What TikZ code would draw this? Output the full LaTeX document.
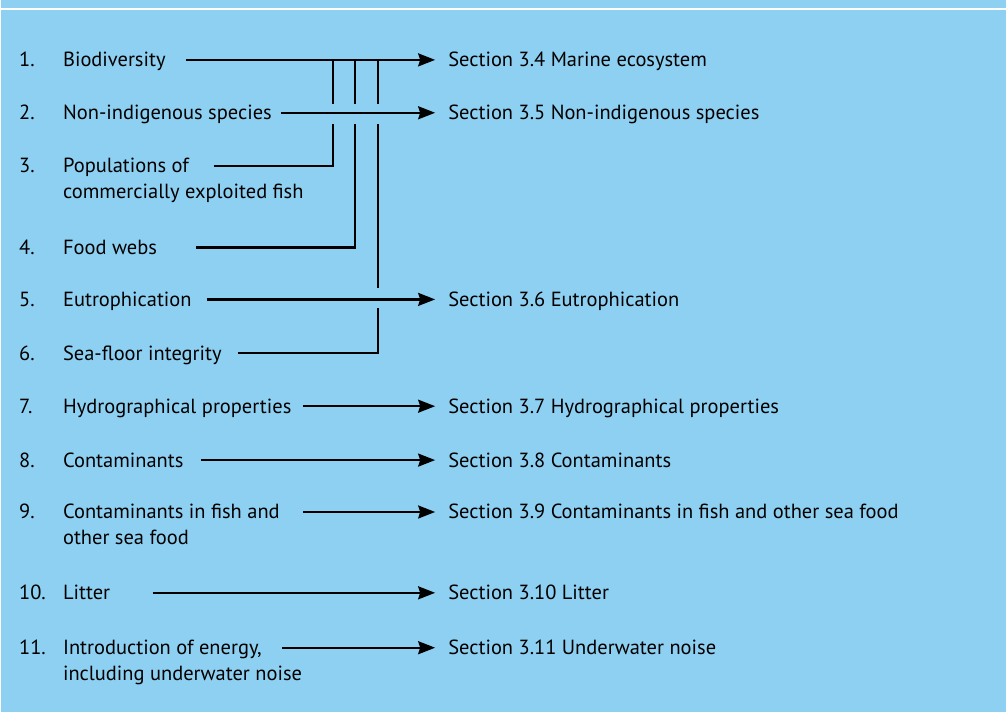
\documentclass[tikz,border=0pt]{standalone}
\usepackage{fontspec}
\setmainfont{PT Sans}
\usetikzlibrary{arrows.meta}
\definecolor{panelblue}{RGB}{142,208,242}

\begin{document}
\begin{tikzpicture}[x=1pt, y=-1pt, font=\fontsize{20.5}{26}\selectfont]
\tikzstyle{num} = [anchor=base west, inner sep=0pt]
\tikzstyle{item} = [anchor=base west, inner sep=0pt, align=left]
\tikzstyle{section} = [anchor=base west, inner sep=0pt]
\tikzstyle{arrow} = [line width=2.2pt, -{Stealth[length=17pt, width=13pt, inset=2pt]}]
\tikzstyle{feed} = [line width=2.2pt]

% panel
\fill[panelblue] (0,0) rectangle (1007,713);
\draw[white, line width=2pt] (0,9.5) -- (1007,9.5);
\useasboundingbox (0,0) rectangle (1007,713);

% numbers
\foreach \n/\y in {1/60, 2/113, 3/166, 4/248, 5/300, 6/354, 7/407, 8/461, 9/513}
  \node (n\n) [num] at (18,\y+7) {\n.};
\node (n10) [num] at (18,601) {10.};
\node (n11) [num] at (18,656) {11.};

% descriptors (two-line ones sit on their last baseline)
\node (t1) [item] at (62,67) {Biodiversity};
\node (t2) [item] at (62,120) {Non-indigenous species};
\node (t3) [item] at (62,199) {Populations of\\commercially exploited fish};
\node (t4) [item] at (62,255) {Food webs};
\node (t5) [item] at (62,307) {Eutrophication};
\node (t6) [item] at (62,361) {Sea-floor integrity};
\node (t7) [item] at (62,414) {Hydrographical properties};
\node (t8) [item] at (62,468) {Contaminants};
\node (t9) [item] at (62,546) {Contaminants in fish and\\other sea food};
\node (t10) [item] at (62,601) {Litter};
\node (t11) [item] at (62,682) {Introduction of energy,\\including underwater noise};

% report sections
\node (s1) [section] at (448,67) {Section 3.4 Marine ecosystem};
\node (s2) [section] at (448,120) {Section 3.5 Non-indigenous species};
\node (s5) [section] at (448,307) {Section 3.6 Eutrophication};
\node (s7) [section] at (448,414) {Section 3.7 Hydrographical properties};
\node (s8) [section] at (448,468) {Section 3.8 Contaminants};
\node (s9) [section] at (448,520) {Section 3.9 Contaminants in fish and other sea food};
\node (s10) [section] at (448,601) {Section 3.10 Litter};
\node (s11) [section] at (448,656) {Section 3.11 Underwater noise};

% line starts and arrow ends
\coordinate (a1) at (185,60);   \coordinate (e1) at (435,60);
\coordinate (a2) at (281,113);  \coordinate (e2) at (435,113);
\coordinate (a3) at (213,166);
\coordinate (a4) at (195,248);
\coordinate (a5) at (206,300);  \coordinate (e5) at (435,300);
\coordinate (a6) at (237,354);
\coordinate (a7) at (303,407);  \coordinate (e7) at (435,407);
\coordinate (a8) at (200,461);  \coordinate (e8) at (435,461);
\coordinate (a9) at (303,513);  \coordinate (e9) at (435,513);
\coordinate (a10) at (152,594); \coordinate (e10) at (435,594);
\coordinate (a11) at (282,649); \coordinate (e11) at (435,649);

% junction columns (broken where they cross an arrow)
\coordinate (c3) at (333,60);
\coordinate (c4) at (355,60);
\coordinate (c6) at (378,60);

\foreach \i in {1,2,5,7,8,9,10,11}
  \draw [arrow] (a\i) -- (e\i);

\foreach \c in {c3,c4,c6}
  \draw [feed] (\c) -- ++(0,44);
\draw [feed] (a3) -| ([yshift=-64pt]c3);
\draw [feed] (a4) -| ([yshift=-64pt]c4);
\draw [feed] ([yshift=-64pt]c6) -- ([yshift=-229pt]c6);
\draw [feed] (a6) -| ([yshift=-249pt]c6);
\end{tikzpicture}
\end{document}
